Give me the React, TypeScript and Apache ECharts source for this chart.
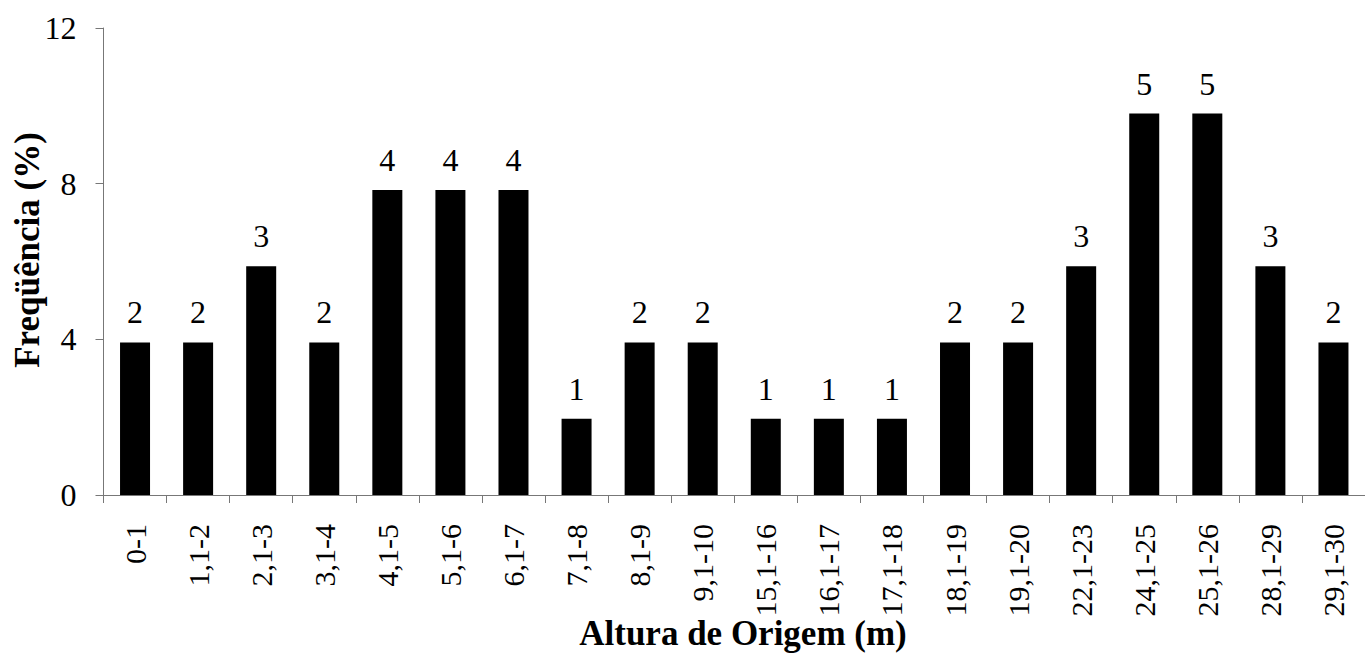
import React, { useEffect, useRef } from "react";
import * as echarts from "echarts";

const categories = [
  "0-1", "1,1-2", "2,1-3", "3,1-4", "4,1-5", "5,1-6", "6,1-7", "7,1-8", "8,1-9", "9,1-10",
  "15,1-16", "16,1-17", "17,1-18", "18,1-19", "19,1-20", "22,1-23", "24,1-25", "25,1-26", "28,1-29", "29,1-30",
];
const counts = [2, 2, 3, 2, 4, 4, 4, 1, 2, 2, 1, 1, 1, 2, 2, 3, 5, 5, 3, 2];
const frequencies = [
  3.92, 3.92, 5.88, 3.92, 7.84, 7.84, 7.84, 1.96, 3.92, 3.92,
  1.96, 1.96, 1.96, 3.92, 3.92, 5.88, 9.8, 9.8, 5.88, 3.92,
];
const yTicks = { min: 0, max: 12, interval: 4 };
const xTitle = "Altura de Origem (m)";
const yTitle = "Freqüência (%)";

const FONT = "Liberation Serif";

export default function App() {
  const ref = useRef<HTMLDivElement>(null);
  useEffect(() => {
    document.body.style.margin = "0";
    const chart = echarts.init(ref.current!, null, { renderer: "svg" });
    chart.setOption({
      animation: false,
      backgroundColor: "#fff",
      textStyle: { fontFamily: FONT },
      grid: { left: 103.5, top: 28, right: -6.3, bottom: 160, containLabel: false },
      xAxis: {
        type: "category",
        data: categories,
        boundaryGap: true,
        axisLine: { lineStyle: { color: "#777", width: 1 } },
        axisTick: { show: true, length: 8, inside: false, interval: 0, lineStyle: { color: "#777" } },
        axisLabel: {
          interval: 0,
          rotate: 90,
          margin: 29,
          fontSize: 30,
          color: "#000",
          fontFamily: FONT,
        },
      },
      yAxis: {
        type: "value",
        min: yTicks.min,
        max: yTicks.max,
        interval: yTicks.interval,
        splitLine: { show: false },
        axisLine: { show: true, lineStyle: { color: "#777", width: 1 } },
        axisTick: { show: true, length: 8, inside: false, lineStyle: { color: "#777" } },
        axisLabel: { fontSize: 32, color: "#000", margin: 27, fontFamily: FONT },
      },
      graphic: [
        {
          type: "text",
          x: 743,
          y: 633,
          style: {
            text: xTitle,
            fontFamily: FONT,
            fontWeight: "bold",
            fontSize: 35,
            fill: "#000",
            align: "center",
            verticalAlign: "middle",
          },
        },
        {
          type: "text",
          x: 27,
          y: 250,
          rotation: Math.PI / 2,
          style: {
            text: yTitle,
            fontFamily: FONT,
            fontWeight: "bold",
            fontSize: 35,
            fill: "#000",
            align: "center",
            verticalAlign: "middle",
          },
        },
      ],
      series: [
        {
          type: "bar",
          data: frequencies,
          barWidth: 30,
          itemStyle: { color: "#000" },
          label: {
            show: true,
            position: "top",
            distance: 14,
            fontSize: 32,
            color: "#000",
            fontFamily: FONT,
            formatter: (p: any) => String(counts[p.dataIndex]),
          },
        },
      ],
    });
    return () => chart.dispose();
  }, []);
  return <div ref={ref} style={{ width: 1365, height: 655 }} />;
}
